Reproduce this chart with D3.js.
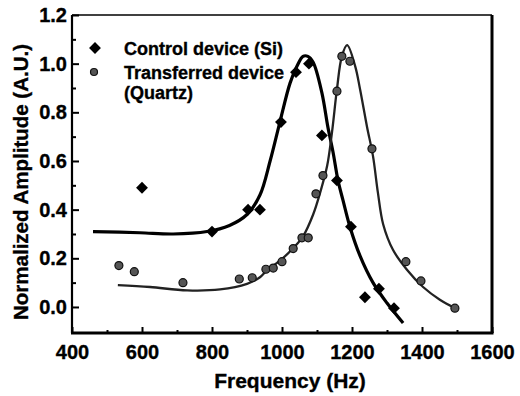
<!DOCTYPE html>
<html>
<head>
<meta charset="utf-8">
<script src="https://cdn.jsdelivr.net/npm/d3@7"></script>
<style>
  body { margin: 0; background: #fff; }
  text { font-family: "Liberation Sans", Arial, sans-serif; font-weight: bold; stroke: #000; stroke-width: 0.35px; }
</style>
</head>
<body>
<div id="chart"></div>
<script>
// measured points, control device (Si) - diamonds
const controlFreq = [600, 800, 903, 937, 997, 1040, 1077, 1114, 1157, 1197, 1237, 1277, 1320];
const controlAmp  = [0.49, 0.31, 0.40, 0.40, 0.76, 0.965, 1.00, 0.705, 0.52, 0.33, 0.04, 0.075, -0.005];

// measured points, transferred device (quartz) - circles
const quartzFreq = [534, 578, 717, 878, 915, 954, 975, 1000, 1032, 1057, 1075, 1097, 1117, 1157, 1171, 1194, 1257, 1354, 1397, 1494];
const quartzAmp  = [0.17, 0.145, 0.10, 0.115, 0.12, 0.155, 0.16, 0.186, 0.24, 0.284, 0.284, 0.465, 0.54, 0.887, 1.03, 1.01, 0.65, 0.186, 0.107, -0.005];

// fitted curves
const controlFitFreq = [460, 594, 689, 786, 850, 900, 937, 966, 994, 1023, 1043, 1060, 1074, 1089, 1114, 1131, 1146, 1160, 1174, 1194, 1223, 1260, 1300, 1346];
const controlFitAmp  = [0.31, 0.305, 0.30, 0.31, 0.335, 0.38, 0.46, 0.60, 0.76, 0.92, 0.99, 1.03, 1.03, 1.006, 0.88, 0.74, 0.635, 0.52, 0.44, 0.33, 0.21, 0.10, 0.016, -0.066];

const quartzFitFreq = [531, 623, 729, 823, 900, 937, 957, 994, 1031, 1060, 1089, 1109, 1129, 1143, 1157, 1171, 1186, 1209, 1223, 1243, 1260, 1274, 1289, 1317, 1357, 1403, 1451, 1494];
const quartzFitAmp  = [0.09, 0.082, 0.068, 0.072, 0.095, 0.122, 0.15, 0.19, 0.24, 0.29, 0.38, 0.47, 0.58, 0.72, 0.895, 1.03, 1.076, 0.99, 0.895, 0.74, 0.62, 0.47, 0.34, 0.235, 0.153, 0.082, 0.03, -0.004];

const xTicks = [400, 600, 800, 1000, 1200, 1400, 1600];
const xMinor = [500, 700, 900, 1100, 1300, 1500];
const yTicks = [0.0, 0.2, 0.4, 0.6, 0.8, 1.0, 1.2];
const yMinor = [0.1, 0.3, 0.5, 0.7, 0.9, 1.1];

const legendLabels = ["Control device (Si)", "Transferred device", "(Quartz)"];

const width = 520, height = 396;
const plot = {left: 72, right: 492, top: 15, bottom: 333};

const svg = d3.select("#chart").append("svg")
  .attr("width", width)
  .attr("height", height);

const x = d3.scaleLinear().domain([400, 1600]).range([plot.left, plot.right]);
const y = d3.scaleLinear().domain([-0.107, 1.2]).range([plot.bottom, plot.top]);

// axes, ticks pointing inward
const xAxis = svg.append("g")
  .attr("transform", `translate(0,${plot.bottom})`)
  .call(d3.axisBottom(x).tickValues(xTicks).tickSize(-6).tickPadding(12).tickFormat(d3.format("d")));
xAxis.select(".domain").remove();
xAxis.selectAll("text").style("font-size", "20px").attr("fill", "#000");
xAxis.selectAll("line").attr("stroke-width", 2);

const xMin = svg.append("g")
  .attr("transform", `translate(0,${plot.bottom})`)
  .call(d3.axisBottom(x).tickValues(xMinor).tickSize(-3).tickFormat(""));
xMin.select(".domain").remove();
xMin.selectAll("line").attr("stroke-width", 2);

const yAxis = svg.append("g")
  .attr("transform", `translate(${plot.left},0)`)
  .call(d3.axisLeft(y).tickValues(yTicks).tickSize(-7).tickPadding(5).tickFormat(d3.format(".1f")));
yAxis.select(".domain").remove();
yAxis.selectAll("text").style("font-size", "20px").attr("fill", "#000");
yAxis.selectAll("line").attr("stroke-width", 2);

const yMin = svg.append("g")
  .attr("transform", `translate(${plot.left},0)`)
  .call(d3.axisLeft(y).tickValues(yMinor).tickSize(-4).tickFormat(""));
yMin.select(".domain").remove();
yMin.selectAll("line").attr("stroke-width", 2);

// frame
svg.append("line").attr("x1", plot.left).attr("x2", plot.right).attr("y1", plot.top).attr("y2", plot.top)
  .attr("stroke", "#000").attr("stroke-width", 1.6);
svg.append("line").attr("x1", plot.left).attr("x2", plot.left).attr("y1", plot.top).attr("y2", plot.bottom)
  .attr("stroke", "#000").attr("stroke-width", 2.2);
svg.append("line").attr("x1", plot.left - 1).attr("x2", plot.right + 1.5).attr("y1", plot.bottom).attr("y2", plot.bottom)
  .attr("stroke", "#000").attr("stroke-width", 3);
svg.append("line").attr("x1", plot.right).attr("x2", plot.right).attr("y1", plot.top).attr("y2", plot.bottom)
  .attr("stroke", "#000").attr("stroke-width", 3);

// axis titles
svg.append("text")
  .attr("x", 290)
  .attr("y", 388)
  .attr("text-anchor", "middle")
  .style("font-size", "21px")
  .text("Frequency (Hz)");

svg.append("text")
  .attr("transform", `translate(28,182) rotate(-90)`)
  .attr("text-anchor", "middle")
  .style("font-size", "20.5px")
  .text("Normalized Amplitude (A.U.)");

// fit curves
const line = d3.line()
  .x(d => x(d[0]))
  .y(d => y(d[1]))
  .curve(d3.curveCatmullRom.alpha(0.5));

svg.append("path")
  .datum(controlFitFreq.map((f, i) => [f, controlFitAmp[i]]))
  .attr("d", line)
  .attr("fill", "none")
  .attr("stroke", "#000")
  .attr("stroke-width", 3.2);

svg.append("path")
  .datum(quartzFitFreq.map((f, i) => [f, quartzFitAmp[i]]))
  .attr("d", line)
  .attr("fill", "none")
  .attr("stroke", "#222")
  .attr("stroke-width", 2.3);

// markers
const diamond = d3.symbol().type(d3.symbolSquare).size(70);

svg.selectAll(".ctrl")
  .data(controlFreq.map((f, i) => [f, controlAmp[i]]))
  .enter().append("path")
  .attr("class", "ctrl")
  .attr("d", diamond)
  .attr("transform", d => `translate(${x(d[0])},${y(d[1])}) rotate(45)`)
  .attr("fill", "#000");

svg.selectAll(".qtz")
  .data(quartzFreq.map((f, i) => [f, quartzAmp[i]]))
  .enter().append("circle")
  .attr("class", "qtz")
  .attr("cx", d => x(d[0]))
  .attr("cy", d => y(d[1]))
  .attr("r", 4)
  .attr("fill", "#555")
  .attr("stroke", "#111")
  .attr("stroke-width", 1.2);

// legend
const legend = svg.append("g");
legend.append("path")
  .attr("d", diamond)
  .attr("transform", "translate(95,48) rotate(45)")
  .attr("fill", "#000");
legend.append("circle")
  .attr("cx", 94).attr("cy", 72).attr("r", 3.5)
  .attr("fill", "#555").attr("stroke", "#111").attr("stroke-width", 1.2);

legend.selectAll("text")
  .data(legendLabels)
  .enter().append("text")
  .attr("x", 124)
  .attr("y", (d, i) => [55, 79, 99][i])
  .style("font-size", "18px")
  .text(d => d);
</script>
</body>
</html>
